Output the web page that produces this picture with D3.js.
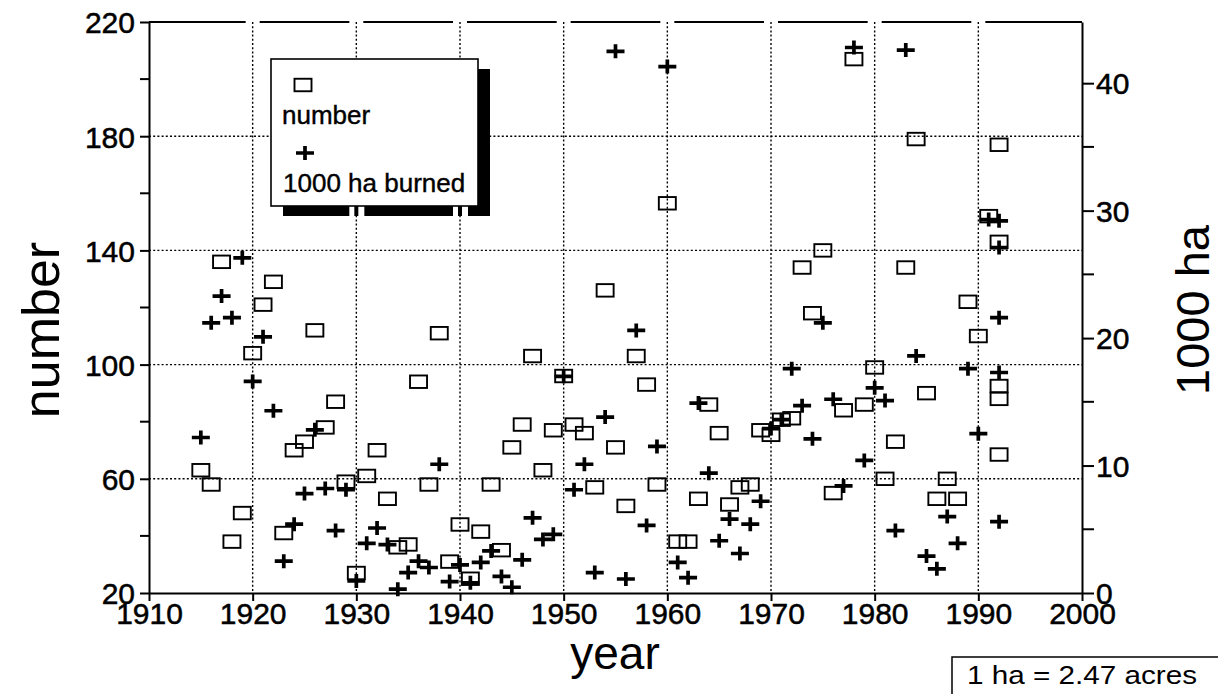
<!DOCTYPE html>
<html><head><meta charset="utf-8">
<script src="https://cdn.jsdelivr.net/npm/d3@7"></script>
<style>
body{margin:0;background:#fff}
svg text{font-family:"Liberation Sans",Arial,Helvetica,sans-serif;fill:#000}
</style>
</head><body>
<svg id="c" width="1218" height="694"></svg>
<script>
// ---- data ----
const numberYears = [1915,1916,1917,1918,1919,1920,1921,1922,1923,1924,1925,1926,1927,1928,1929,1930,1931,1932,1933,1934,1935,1936,1937,1938,1939,1940,1941,1942,1943,1944,1945,1946,1947,1948,1949,1950,1951,1952,1953,1954,1955,1956,1957,1958,1959,1960,1961,1962,1963,1964,1965,1966,1967,1968,1969,1970,1971,1972,1973,1974,1975,1976,1977,1978,1979,1980,1981,1982,1983,1984,1985,1986,1987,1988,1989,1990,1991,1992,1992,1992,1992,1992];
const numberValues = [63,58,136,38,48,104,121,129,41,70,73,112,78,87,59,27,61,70,53,36,37,94,58,111,31,44,25,41.5,58,35,71,79,103,63,77,96,79,76,57,126,71,50.5,103,93,58,156.5,38,38,53,86,76,51,57,58,77,75.4,80.7,81.2,134,118,140,55,84,207,86,99,60,73,134,179,90,53,60,53,122,110,152,177,143,92.5,88,68.5];
const burnedYears = [1915,1916,1917,1918,1919,1920,1921,1922,1923,1924,1925,1926,1927,1928,1929,1930,1931,1932,1933,1934,1935,1936,1937,1938,1939,1940,1941,1942,1943,1944,1945,1946,1947,1948,1949,1950,1951,1952,1953,1954,1955,1956,1957,1958,1959,1960,1961,1962,1963,1964,1965,1966,1967,1968,1969,1970,1971,1972,1973,1974,1975,1976,1977,1978,1979,1980,1981,1982,1983,1984,1985,1986,1987,1988,1989,1990,1991,1992,1992,1992,1992,1992];
const burnedValues = [12.2,21.2,23.3,21.6,26.3,16.6,20.1,14.3,2.5,5.4,7.8,12.8,8.2,4.9,8.1,0.95,3.9,5.1,3.8,0.3,1.6,2.5,2.0,10.1,0.9,2.2,0.8,2.4,3.3,1.3,0.45,2.6,5.9,4.2,4.6,17.0,8.1,10.1,1.6,13.8,42.5,1.1,20.6,5.3,11.5,41.3,2.4,1.2,14.9,9.4,4.1,5.8,3.1,5.4,7.2,12.9,13.6,17.6,14.7,12.1,21.2,15.2,8.4,42.8,10.4,16.1,15.1,4.9,42.6,18.6,2.9,1.9,6.0,3.9,17.6,12.5,29.3,29.2,27.1,21.6,17.3,5.6];
const xTicks = [1910,1920,1930,1940,1950,1960,1970,1980,1990,2000];
const leftTicks = [20,60,100,140,180,220];
const leftMinor = [40,80,120,160,200];
const rightTicks = [0,10,20,30,40];
const rightMinor = [5,15,25,35];
const legendLabels = ["number","1000 ha burned"];
const xTitle = "year", leftTitle = "number", rightTitle = "1000 ha";
const noteText = "1 ha = 2.47 acres";

// ---- scales ----
const svg = d3.select("#c");
svg.append("rect").attr("width",1218).attr("height",694).attr("fill","#fff");
const L = 149, R = 1082, T = 22, B = 593;
const x = d3.scaleLinear().domain([1910,2000]).range([L,R]);
const yL = d3.scaleLinear().domain([20,220]).range([B,T]);
const yR = d3.scaleLinear().domain([0,44.8]).range([B,T]);

// ---- grid ----
const grid = svg.append("g").attr("stroke","#000").attr("stroke-width",1.4).attr("stroke-dasharray","2,2.2");
xTicks.slice(1,-1).forEach(v=>{
  grid.append("line").attr("x1",x(v)).attr("x2",x(v)).attr("y1",T).attr("y2",B);
});
leftTicks.slice(1,-1).forEach(v=>{
  grid.append("line").attr("x1",L).attr("x2",R).attr("y1",yL(v)).attr("y2",yL(v));
});

// top border with small gaps at gridlines
const gx = xTicks.map(v=>x(v));
for(let i=0;i<gx.length-1;i++){
  const a = gx[i] + (i===0?0:7), b = gx[i+1] - (i===gx.length-2?0:7);
  svg.append("line").attr("x1",a).attr("x2",b).attr("y1",T).attr("y2",T)
    .attr("stroke","#000").attr("stroke-width",2);
}

// ---- axes ----
const fs = 30;
const axL = svg.append("g").attr("transform",`translate(${L},0)`)
  .call(d3.axisLeft(yL).tickValues(leftTicks).tickSize(9).tickSizeOuter(0).tickPadding(5).tickFormat(d3.format("d")));
axL.append("g").selectAll("line").data(leftMinor).join("line")
  .attr("x1",-9).attr("x2",0).attr("y1",d=>yL(d)).attr("y2",d=>yL(d)).attr("stroke","#000").attr("stroke-width",2);

const axB = svg.append("g").attr("transform",`translate(0,${B})`)
  .call(d3.axisBottom(x).tickValues(xTicks).tickSize(8).tickSizeOuter(0).tickPadding(-6).tickFormat(d3.format("d")));

const axR = svg.append("g").attr("transform",`translate(${R},0)`)
  .call(d3.axisRight(yR).tickValues(rightTicks).tickSize(12).tickSizeOuter(0).tickPadding(2).tickFormat(d3.format("d")));
axR.append("g").selectAll("line").data(rightMinor).join("line")
  .attr("x1",0).attr("x2",12).attr("y1",d=>yR(d)).attr("y2",d=>yR(d)).attr("stroke","#000").attr("stroke-width",2);

[axL,axB,axR].forEach(a=>{
  a.selectAll("path.domain").attr("stroke","#000").attr("stroke-width",2);
  a.selectAll(".tick line").attr("stroke","#000").attr("stroke-width",2);
  a.selectAll(".tick text").attr("font-size",fs).attr("fill","#000")
    .attr("stroke","#000").attr("stroke-width",0.5)
    .style("font-family",'"Liberation Sans",Arial,Helvetica,sans-serif');
});
axB.selectAll(".tick text").attr("dy","0.95em");
axL.selectAll(".tick text").attr("dy","0.36em");
axR.selectAll(".tick text").attr("dy","0.36em");

// ---- titles ----
svg.append("text").attr("x",615).attr("y",669).attr("text-anchor","middle").attr("font-size",46).text(xTitle);
svg.append("text").attr("transform","translate(59,330) rotate(-90)").attr("text-anchor","middle").attr("font-size",52).text(leftTitle);
svg.append("text").attr("transform","translate(1209,310) rotate(-90)").attr("text-anchor","middle").attr("font-size",47).text(rightTitle);

// ---- legend ----
const lg = svg.append("g");
const bx = 271, by = 59, bw = 207, bh = 147, sdx = 12, sdy = 10;
lg.append("rect").attr("x",bx+sdx).attr("y",by+sdy).attr("width",bw).attr("height",bh).attr("fill","#000");
[1930,1940].forEach(v=>{
  const g0 = x(v);
  lg.append("rect").attr("x",g0-7).attr("y",by+bh).attr("width",5).attr("height",sdy+1).attr("fill","#fff");
  lg.append("rect").attr("x",g0+2).attr("y",by+bh).attr("width",6).attr("height",sdy+1).attr("fill","#fff");
});
lg.append("rect").attr("x",bx).attr("y",by).attr("width",bw).attr("height",bh).attr("fill","#fff").attr("stroke","#000").attr("stroke-width",1.6);

function square(sel){ return sel.attr("width",17).attr("height",12.5).attr("fill","none").attr("stroke","#000").attr("stroke-width",1.9); }
function plusPath(cx,cy){ return `M${cx-9},${cy}H${cx+9}M${cx},${cy-7}V${cy+7}`; }

square(lg.append("rect").attr("x",303-8.5).attr("y",85-6.25));
lg.append("path").attr("d",plusPath(305,153)).attr("stroke","#000").attr("stroke-width",3.7).attr("fill","none");
lg.append("text").attr("x",282).attr("y",124).attr("font-size",26).attr("stroke","#000").attr("stroke-width",0.4).text(legendLabels[0]);
lg.append("text").attr("x",283).attr("y",192).attr("font-size",26).attr("stroke","#000").attr("stroke-width",0.4).text(legendLabels[1]);

// ---- marks ----
const numData = numberYears.map((yr,i)=>({yr, v:numberValues[i]}));
const burnData = burnedYears.map((yr,i)=>({yr, v:burnedValues[i]}));
svg.append("g").selectAll("rect").data(numData).join("rect")
  .attr("x",d=>x(d.yr)-8.5).attr("y",d=>yL(d.v)-6.25)
  .call(square);
svg.append("g").selectAll("path").data(burnData).join("path")
  .attr("d",d=>plusPath(x(d.yr),yR(d.v)))
  .attr("stroke","#000").attr("stroke-width",3.7).attr("fill","none");

// ---- note box ----
svg.append("rect").attr("x",952).attr("y",657).attr("width",300).attr("height",60)
  .attr("fill","#fff").attr("stroke","#000").attr("stroke-width",1.5);
svg.append("text").attr("x",967).attr("y",684).attr("font-size",26)
  .attr("textLength",230).attr("lengthAdjust","spacingAndGlyphs").text(noteText);
</script>
</body></html>
